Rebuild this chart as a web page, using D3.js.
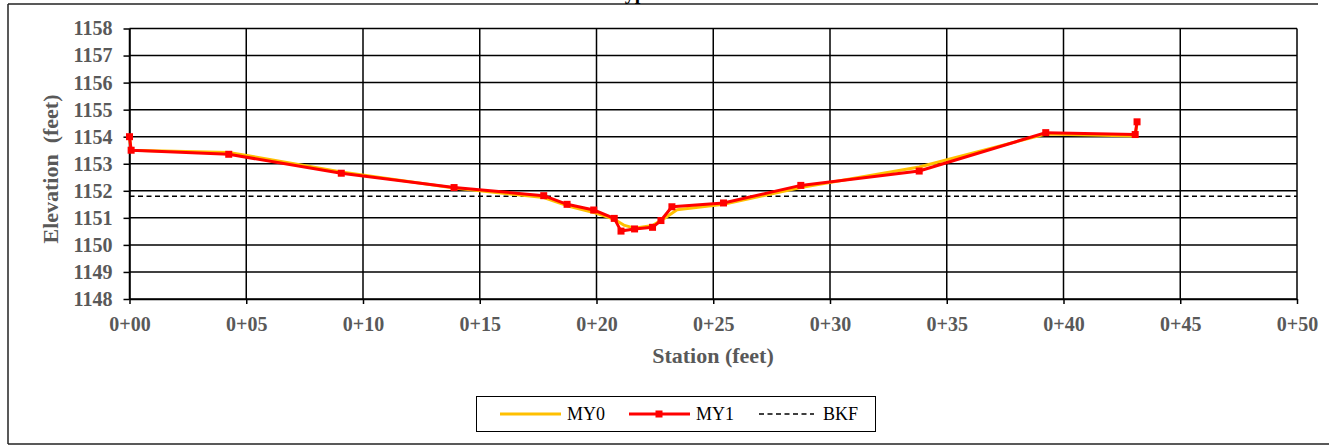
<!DOCTYPE html>
<html><head><meta charset="utf-8">
<script src="https://cdn.jsdelivr.net/npm/d3@7"></script>
<style>
html,body{margin:0;padding:0;background:#fff;overflow:hidden;}
svg{display:block;}
</style></head>
<body>
<svg id="c" width="1329" height="446"></svg>
<script>
// ---- data ----
const titleText = "Typical";
const xTickValues = [0,5,10,15,20,25,30,35,40,45,50];
const xTickLabels = ["0+00","0+05","0+10","0+15","0+20","0+25","0+30","0+35","0+40","0+45","0+50"];
const yTickValues = [1148,1149,1150,1151,1152,1153,1154,1155,1156,1157,1158];
const stationMY0 = [0, 0.07, 4.25, 9.07, 13.9, 17.74, 18.74, 19.88, 20.76, 21.2, 21.63, 22.4, 22.9, 23.45, 25.44, 28.75, 33.82, 39.24, 43.07, 43.15];
const elevMY0    = [1154.0, 1153.5, 1153.42, 1152.7, 1152.1, 1151.75, 1151.45, 1151.2, 1150.95, 1150.72, 1150.62, 1150.72, 1150.98, 1151.3, 1151.5, 1152.12, 1152.88, 1154.1, 1154.03, 1154.5];
const stationMY1 = [0, 0.07, 4.25, 9.07, 13.9, 17.74, 18.74, 19.88, 20.76, 21.05, 21.63, 22.4, 22.76, 23.23, 25.44, 28.75, 33.82, 39.24, 43.07, 43.15];
const elevMY1    = [1154.0, 1153.5, 1153.35, 1152.65, 1152.12, 1151.82, 1151.5, 1151.29, 1150.98, 1150.51, 1150.59, 1150.65, 1150.9, 1151.41, 1151.55, 1152.2, 1152.73, 1154.15, 1154.08, 1154.55];
const stationBKF = [0, 50];
const elevBKF    = [1151.8, 1151.8];
const seriesNames = ["MY0","MY1","BKF"];
const xTitle = "Station (feet)";
const yTitle = "Elevation  (feet)";

// ---- drawing ----
const svg = d3.select("#c");
const serif = "'Liberation Serif','Times New Roman',serif";
const gray = "#595959";
const x = d3.scaleLinear().domain([0,50]).range([129.5,1297]);
const y = d3.scaleLinear().domain([1148,1158]).range([299,28.5]);

// outer frame
svg.append("line").attr("x1",8).attr("x2",1318).attr("y1",4).attr("y2",4).attr("stroke","#222").attr("stroke-width",1.5);
svg.append("line").attr("x1",8).attr("x2",8).attr("y1",4).attr("y2",444).attr("stroke","#222").attr("stroke-width",1.5);
svg.append("line").attr("x1",8).attr("x2",1329).attr("y1",444).attr("y2",444).attr("stroke","#222").attr("stroke-width",1.5);

// clipped title (only descenders visible above frame)
svg.append("text").attr("x",613).attr("y",-1).attr("font-family",serif).attr("font-weight","bold")
  .attr("font-size",20).attr("fill","#000").text(titleText);

// grid
const grid = svg.append("g");
grid.selectAll("line.h").data(yTickValues).join("line").attr("class","h")
  .attr("x1",x(0)).attr("x2",x(50)).attr("y1",d=>y(d)).attr("y2",d=>y(d))
  .attr("stroke","#000").attr("stroke-width",1.5);
grid.selectAll("line.v").data(xTickValues).join("line").attr("class","v")
  .attr("x1",d=>x(d)).attr("x2",d=>x(d)).attr("y1",y(1148)).attr("y2",y(1158))
  .attr("stroke","#000").attr("stroke-width",1.5);

// axes
const yAxis = svg.append("g").attr("transform",`translate(${x(0)},0)`)
  .call(d3.axisLeft(y).tickValues(yTickValues).tickFormat(d3.format("d")).tickSize(6).tickSizeOuter(0).tickPadding(11));
const xAxis = svg.append("g").attr("transform",`translate(0,${y(1148)})`)
  .call(d3.axisBottom(x).tickValues(xTickValues).tickFormat((d,i)=>xTickLabels[i]).tickSize(5).tickSizeOuter(0).tickPadding(13));
[yAxis,xAxis].forEach(a=>{
  a.selectAll("path.domain").attr("stroke","#000").attr("stroke-width",1.5);
  a.selectAll(".tick line").attr("stroke","#000").attr("stroke-width",1.5);
  a.selectAll("text").attr("font-family",serif).attr("font-weight","bold").attr("font-size",20).attr("fill",gray);
});

// axis titles
svg.append("text").attr("x",713).attr("y",363).attr("text-anchor","middle")
  .attr("font-family",serif).attr("font-weight","bold").attr("font-size",22).attr("fill",gray).text(xTitle);
svg.append("text").attr("transform","translate(58,169) rotate(-90)").attr("text-anchor","middle")
  .attr("font-family",serif).attr("font-weight","bold").attr("font-size",22).attr("fill",gray)
  .style("white-space","pre").text(yTitle);

// series
const line = d3.line().x(d=>x(d[0])).y(d=>y(d[1]));
const bkf = d3.zip(stationBKF, elevBKF);
const my0 = d3.zip(stationMY0, elevMY0);
const my1 = d3.zip(stationMY1, elevMY1);
svg.append("path").datum(bkf).attr("d",line).attr("fill","none").attr("stroke","#000")
  .attr("stroke-width",1.5).attr("stroke-dasharray","5,3.5");
svg.append("path").datum(my0).attr("d",line).attr("fill","none").attr("stroke","#FFC000")
  .attr("stroke-width",3).attr("stroke-linejoin","round");
svg.append("path").datum(my1).attr("d",line).attr("fill","none").attr("stroke","#FF0000")
  .attr("stroke-width",3).attr("stroke-linejoin","round");
svg.append("g").selectAll("rect").data(my1).join("rect")
  .attr("x",d=>x(d[0])-3.5).attr("y",d=>y(d[1])-3.5).attr("width",7).attr("height",7).attr("fill","#FF0000");

// legend
const lg = svg.append("g");
lg.append("rect").attr("x",476.5).attr("y",396.5).attr("width",399).attr("height",35)
  .attr("fill","#fff").attr("stroke","#000").attr("stroke-width",1);
const ly = 414;
lg.append("line").attr("x1",500).attr("x2",561).attr("y1",ly).attr("y2",ly).attr("stroke","#FFC000").attr("stroke-width",3);
lg.append("line").attr("x1",629).attr("x2",690).attr("y1",ly).attr("y2",ly).attr("stroke","#FF0000").attr("stroke-width",3);
lg.append("rect").attr("x",655.5).attr("y",ly-3.5).attr("width",7).attr("height",7).attr("fill","#FF0000");
lg.append("line").attr("x1",759).attr("x2",814).attr("y1",ly).attr("y2",ly).attr("stroke","#000").attr("stroke-width",1.5).attr("stroke-dasharray","5,3.5");
const lx = [567, 696, 823];
lg.selectAll("text").data(seriesNames).join("text")
  .attr("x",(d,i)=>lx[i]).attr("y",420).attr("font-family",serif).attr("font-size",18).attr("fill","#000").text(d=>d);
</script>
</body></html>
